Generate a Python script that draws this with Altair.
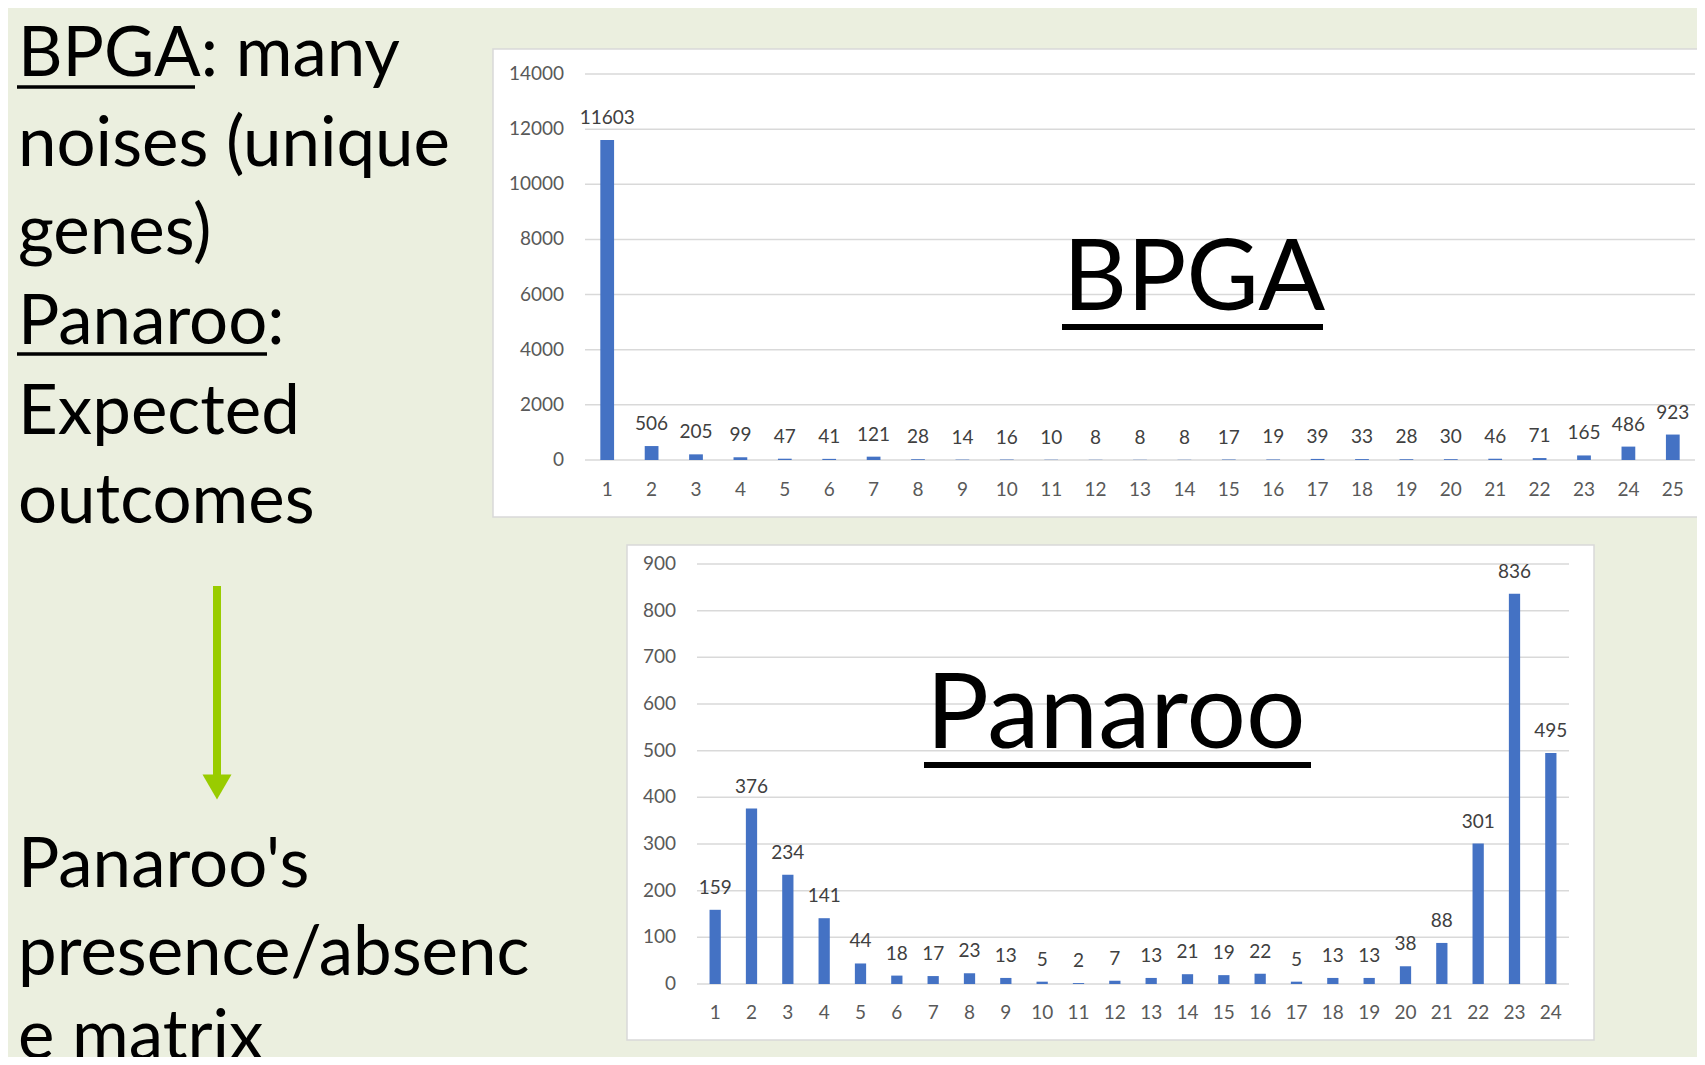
import altair as alt
import pandas as pd

# ---------------- data ----------------
bpga_groups = [str(i) for i in range(1, 26)]
bpga_counts = [11603, 506, 205, 99, 47, 41, 121, 28, 14, 16, 10, 8, 8, 8, 17,
               19, 39, 33, 28, 30, 46, 71, 165, 486, 923]
panaroo_groups = [str(i) for i in range(1, 25)]
panaroo_counts = [159, 376, 234, 141, 44, 18, 17, 23, 13, 5, 2, 7, 13, 21, 19,
                  22, 5, 13, 13, 38, 88, 301, 836, 495]
bpga_ticks = [0, 2000, 4000, 6000, 8000, 10000, 12000, 14000]
panaroo_ticks = [0, 100, 200, 300, 400, 500, 600, 700, 800, 900]
left_text_top = ["BPGA: many", "noises (unique", "genes)", "Panaroo:", "Expected", "outcomes"]
left_text_bottom = ["Panaroo's", "presence/absenc", "e matrix"]
title_top = "BPGA"
title_bottom = "Panaroo"

# ---------------- style ----------------
FONT = "Lato"
BAR = "#4472C4"
GRID = "#D9D9D9"
AXIS_TXT = "#595959"
LABEL_TXT = "#404040"
BG = "#EBEFDF"
ARROW = "#99CC00"
O = 8  # page margin offset
W, H = 1689, 1049

one = pd.DataFrame({"d": [0]})


def mini_chart(groups, counts, ticks, x0, x1, y0, ytop, ymax, ylab_x, xlab_y):
    df = pd.DataFrame({"k": groups, "v": counts, "s": [str(c) for c in counts]})
    tdf = pd.DataFrame({"t": ticks, "tl": [str(t) for t in ticks]})
    xs = alt.Scale(domain=groups, range=[x0 - O, x1 - O], paddingInner=0.69, paddingOuter=0.345)
    ys = alt.Scale(domain=[0, ymax], range=[y0 - O, ytop - O], nice=False, zero=True)
    X = alt.X("k:O", scale=xs, axis=None)
    Y = alt.Y("v:Q", scale=ys, axis=None)
    TY = alt.Y("t:Q", scale=ys, axis=None)
    grid = alt.Chart(tdf).mark_rule(color=GRID, strokeWidth=1.5).encode(
        y=TY, x=alt.value(x0 - O), x2=alt.value(x1 - O))
    ylab = alt.Chart(tdf).mark_text(align="right", baseline="middle", font=FONT,
                                    fontSize=19, color=AXIS_TXT).encode(
        y=TY, x=alt.value(ylab_x - O), text="tl:N")
    xlab = alt.Chart(df).mark_text(align="center", baseline="middle", font=FONT,
                                   fontSize=19, color=AXIS_TXT).encode(
        x=X, y=alt.value(xlab_y - O), text="k:N")
    bars = alt.Chart(df).mark_bar(color=BAR).encode(x=X, y=Y)
    vals = alt.Chart(df).mark_text(align="center", baseline="middle", font=FONT,
                                   fontSize=19, color=LABEL_TXT, dy=-22).encode(
        x=X, y=Y, text="s:N")
    return alt.layer(grid, bars, ylab, xlab, vals)


def rect(x0, x1, y0, y1):
    return alt.Chart(one).mark_rect(fill="white", stroke=GRID, strokeWidth=1.5).encode(
        x=alt.value(x0 - O), x2=alt.value(x1 - O), y=alt.value(y0 - O), y2=alt.value(y1 - O))


def hline(x0, x1, y, w, color="black"):
    return alt.Chart(one).mark_rule(color=color, strokeWidth=w).encode(
        x=alt.value(x0 - O), x2=alt.value(x1 - O), y=alt.value(y - O))


def txt(s, x, y, size, color="black", align="left"):
    return alt.Chart(one).mark_text(align=align, baseline="alphabetic", font=FONT,
                                    fontSize=size, color=color).encode(
        x=alt.value(x - O), y=alt.value(y - O), text=alt.value(s))


layers = []
layers.append(rect(493, 1720, 49, 517))
layers.append(rect(627, 1594, 545, 1040))

top = mini_chart(bpga_groups, bpga_counts, bpga_ticks, 585, 1695, 460, 74, 14000, 564, 490)
bottom = mini_chart(panaroo_groups, panaroo_counts, panaroo_ticks, 697, 1569, 984, 564, 900, 676, 1013)

deco = []
# big titles
deco.append(txt(title_top, 1063, 310, 99))
deco.append(hline(1062, 1323, 327, 6))
deco.append(txt(title_bottom, 926, 748, 105))
deco.append(hline(924, 1311, 765, 6))

# left text
LEFT_SIZE = 69
top_baselines = [76, 166, 254, 344, 434, 523]
for s, yb in zip(left_text_top, top_baselines):
    deco.append(txt(s, 18, yb, LEFT_SIZE))
deco.append(hline(17, 195, 87, 3.5))
deco.append(hline(17, 267, 354, 3.5))
bottom_baselines = [887, 975, 1059]
for s, yb in zip(left_text_bottom, bottom_baselines):
    deco.append(txt(s, 18, yb, LEFT_SIZE))

# arrow
deco.append(alt.Chart(one).mark_rule(color=ARROW, strokeWidth=8).encode(
    x=alt.value(217 - O), y=alt.value(586 - O), y2=alt.value(776 - O)))
deco.append(alt.Chart(one).mark_point(shape="triangle-down", filled=True, size=841,
                                      color=ARROW, opacity=1, strokeWidth=0).encode(
    x=alt.value(217 - O), y=alt.value(787 - O)))

chart = alt.layer(*layers, top, bottom, *deco).resolve_scale(
    x="independent", y="independent"
).properties(
    width=W, height=H,
    autosize=alt.AutoSizeParams(type="none"), padding=0
).configure(background=BG).configure_view(stroke=None)

chart.save("out.html", embed_options={"renderer": "svg", "actions": False})
